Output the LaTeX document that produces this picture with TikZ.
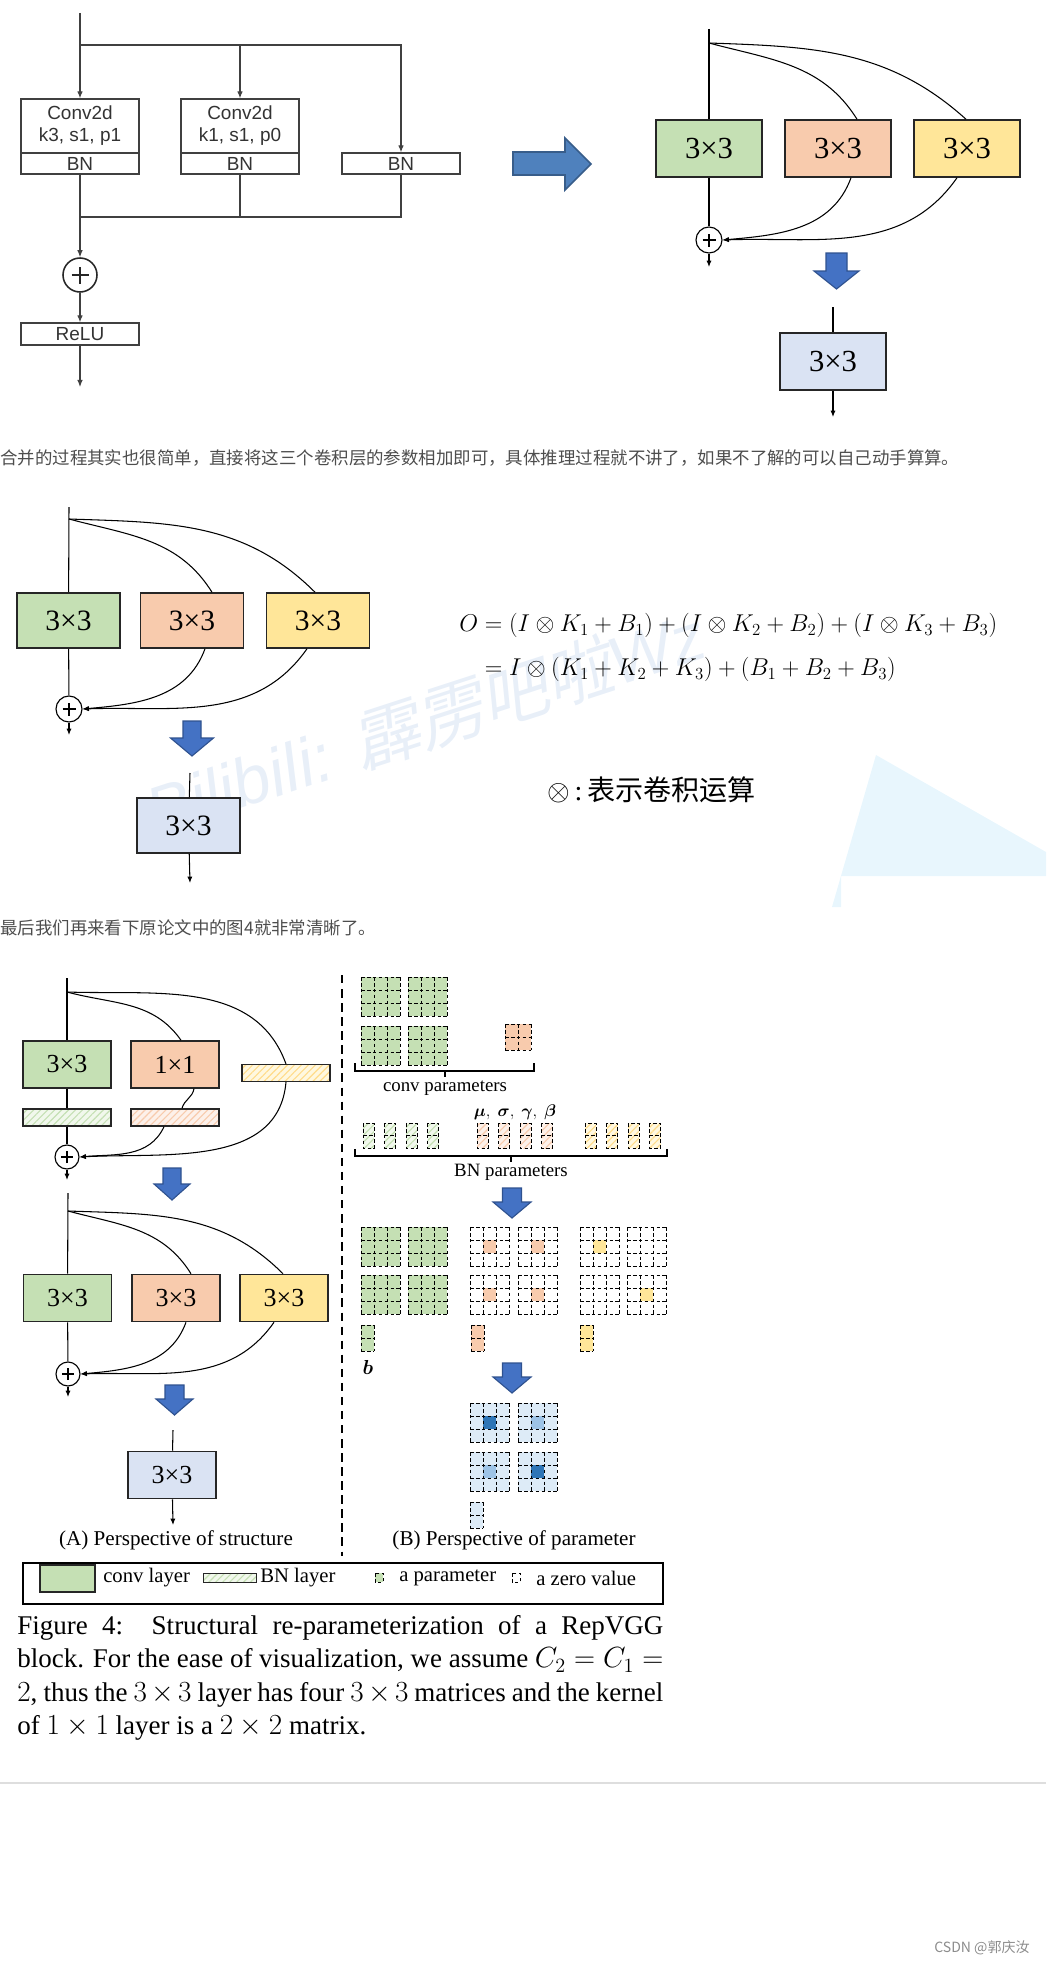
\documentclass[tikz,border=0pt]{standalone}
\usepackage{amsmath, amssymb}
\usepackage{fontspec}
\setmainfont{Liberation Serif}
\setsansfont{Liberation Sans}
\newfontfamily\cjk{Noto Sans CJK SC}
\newfontfamily\cjkslant[FakeSlant=0.22]{Noto Sans CJK SC}
\usepackage{tikz}
\usetikzlibrary{calc, arrows.meta, patterns.meta}

\newdimen\unitpx
\unitpx=0.025cm

\definecolor{cgreen}{HTML}{C5E0B4}
\definecolor{corange}{HTML}{F8CBAD}
\definecolor{cyellow}{HTML}{FFE699}
\definecolor{cblue}{HTML}{DAE3F3}
\definecolor{hgreenbg}{HTML}{F1F8EC}
\definecolor{horangebg}{HTML}{FDF1EA}
\definecolor{hyellowbg}{HTML}{FFF8E0}
\definecolor{arrowblue}{HTML}{4472C4}
\definecolor{arrowedge}{HTML}{2F528F}
\definecolor{bigarrow}{HTML}{4F81BD}
\definecolor{bigarrowedge}{HTML}{385D8A}
\definecolor{fuselight}{HTML}{DDEBF7}
\definecolor{fusemid}{HTML}{9DC3E6}
\definecolor{fusedark}{HTML}{2E75B6}
\definecolor{linegray}{HTML}{404040}
\definecolor{textgray}{HTML}{4D4D4D}
\definecolor{wmark}{HTML}{E8EFF8}
\definecolor{wtri}{HTML}{E8F6FD}

\tikzset{
	link/.style={line width=0.75pt, black},
	arr/.style={link, -{Latex[length=4.5pt, width=3.6pt]}},
	oldlink/.style={line width=0.8pt, linegray},
	oldarr/.style={oldlink, -{Latex[length=5pt, width=4pt]}},
	oldbox/.style={draw=linegray, line width=0.9pt, inner sep=0pt, minimum width=118\unitpx,
		font=\sffamily\fontsize{13.5}{15.6}\selectfont, text=black!80},
	layer/.style={draw=black!85, line width=1.1pt, inner sep=0pt},
	bigbox/.style={layer, minimum width=106\unitpx, minimum height=57\unitpx, font=\rmfamily\fontsize{21.8}{22}\selectfont},
	midbox/.style={layer, minimum width=103\unitpx, minimum height=55\unitpx, font=\rmfamily\fontsize{21}{22}\selectfont},
	smallbox/.style={layer, minimum width=88\unitpx, minimum height=47\unitpx, font=\rmfamily\fontsize{18.5}{20}\selectfont},
	bnbar/.style={layer, line width=1pt, minimum width=88\unitpx, minimum height=17\unitpx},
	hatchgreen/.style={preaction={fill=hgreenbg}, pattern={Lines[angle=45, distance=3.5pt, line width=0.8pt]}, pattern color=cgreen},
	hatchorange/.style={preaction={fill=horangebg}, pattern={Lines[angle=45, distance=3.5pt, line width=0.8pt]}, pattern color=corange},
	hatchyellow/.style={preaction={fill=hyellowbg}, pattern={Lines[angle=45, distance=3.5pt, line width=0.8pt]}, pattern color=cyellow!90!orange},
	sumnode/.style={circle, draw, inner sep=0pt, minimum size=#1, fill=white,
		path picture={
			\draw ($(path picture bounding box.west)!.25!(path picture bounding box.east)$) -- ($(path picture bounding box.west)!.75!(path picture bounding box.east)$)
				($(path picture bounding box.south)!.25!(path picture bounding box.north)$) -- ($(path picture bounding box.south)!.75!(path picture bounding box.north)$);}},
	sumbig/.style={sumnode=34\unitpx, line width=1.1pt, draw=black!85},
	sumsmall/.style={sumnode=26\unitpx, line width=0.8pt},
	sumtiny/.style={sumnode=24\unitpx, line width=0.8pt},
	blockarrow/.style={fill=arrowblue, draw=arrowedge, line width=0.8pt, line join=miter},
	cell/.style={line width=0.6pt, dash pattern=on 2.6pt off 1.6pt},
	paramtext/.style={font=\fontsize{13.4}{15}\selectfont},
	legendtext/.style={font=\fontsize{14.7}{16}\selectfont, anchor=west, inner sep=0pt},
	cntext/.style={font=\cjk\fontsize{12.4}{14}\selectfont, text=textgray, anchor=west, inner sep=0pt},
}

%blue down arrow: centre x, shaft top, head top, tip, shaft half width, head half width
\newcommand{\bluedown}[6]{%
	\filldraw [blockarrow] (#1-#5,#2) -- (#1+#5,#2) -- (#1+#5,#3) -- (#1+#6,#3) -- (#1,#4) -- (#1-#6,#3) -- (#1-#5,#3) -- cycle;
}

%3x3 kernel: top left x, top left y, fill, centre fill
\newcommand{\kgrid}[4]{%
	\fill [#3] (#1,#2) rectangle ++(39,39);
	\fill [#4] (#1+13,#2+13) rectangle ++(13,13);
	\foreach \c in {0,...,3}{\draw [cell] (#1+\c*13,#2) -- ++(0,39);}
	\foreach \r in {0,...,3}{\draw [cell] (#1,#2+\r*13) -- ++(39,0);}
}

%small grid: top left x, top left y, rows, columns, fill
\newcommand{\sgrid}[5]{%
	\fill [#5] (#1,#2) rectangle ++(#4*13,#3*13);
	\foreach \c in {0,...,#4}{\draw [cell] (#1+\c*13,#2) -- ++(0,#3*13);}
	\foreach \r in {0,...,#3}{\draw [cell] (#1,#2+\r*13) -- ++(#4*13,0);}
}

%bn vector: top left x, top left y, hatch
\newcommand{\bnvec}[3]{%
	\path [#3] (#1,#2) rectangle ++(11,25);
	\draw [cell] (#1,#2) rectangle ++(11,25) (#1,#2+12.5) -- ++(11,0);
}

\begin{document}
\begin{tikzpicture}[x=0.025cm, y=-0.025cm]
	\useasboundingbox (0,0) rectangle (1046,1965);
	
	%watermark
	\fill [wtri] (876,755) -- (1046,852) -- (1046,876) -- (841,876) -- (841,907) -- (832,907) -- cycle;
	\node [rotate=18, text=wmark, font=\fontsize{48}{50}\selectfont] (wm) at (425,722)
		{{\sffamily\itshape Bilibili: }{\cjkslant 霹雳吧啦}{\sffamily\itshape Wz}};
	
	%original block
	\coordinate (inA) at (80,13);
	\coordinate (splitA) at (80,45);
	\node [oldbox, minimum height=54\unitpx, align=center] (convA) at (80,126) {Conv2d\\k3, s1, p1};
	\node [oldbox, minimum height=21\unitpx] (bnA) at (80,163.5) {BN};
	\node [oldbox, minimum height=54\unitpx, align=center] (convB) at (240,126) {Conv2d\\k1, s1, p0};
	\node [oldbox, minimum height=21\unitpx] (bnB) at (240,163.5) {BN};
	\node [oldbox, minimum height=21\unitpx] (bnC) at (401,163.5) {BN};
	\coordinate (mergeA) at (80,217);
	\node [sumbig] (sumA) at (80,275) {};
	\node [oldbox, minimum height=22\unitpx] (relu) at (80,334) {ReLU};
	\coordinate (outA) at (80,387);
	
	\draw [oldarr] (inA) -- (convA);
	\draw [oldarr] (splitA -| convB) -- (convB);
	\draw [oldarr] (splitA) -| (bnC);
	\draw [oldlink] (bnB) -- (bnB |- mergeA);
	\draw [oldlink] (bnC) |- (mergeA);
	\draw [oldarr] (bnA) -- (sumA);
	\draw [oldarr] (sumA) -- (relu);
	\draw [oldarr] (relu) -- (outA);
	
	%big arrow
	\filldraw [fill=bigarrow, draw=bigarrowedge, line width=1.2pt] (513,152) -- (565,152) -- (565,138) -- (591,164) -- (565,190) -- (565,175) -- (513,175) -- cycle;
	
	%three branches, top right
	\coordinate (inB) at (709,29);
	\coordinate (forkB) at (709,43);
	\node [bigbox, fill=cgreen] (gB) at (709,148.5) {3×3};
	\node [bigbox, fill=corange] (oB) at (838,148.5) {3×3};
	\node [bigbox, fill=cyellow] (yB) at (967,148.5) {3×3};
	\node [sumsmall] (sumB) at (709,240) {};
	\coordinate (outB) at (709,267);
	
	\draw [link] (inB) -- (gB);
	\draw [link] (forkB) to [out=-15, in=122] ([xshift=19\unitpx]oB.north);
	\draw [link] (forkB) to [out=-2, in=138] ([xshift=-1\unitpx]yB.north);
	\draw [link] (gB) -- (sumB);
	\draw [arr] ([xshift=13\unitpx]oB.south) to [out=-110, in=5] (sumB.east);
	\draw [arr] ([xshift=-10\unitpx]yB.south) to [out=-125, in=2] (sumB.east);
	\draw [arr] (sumB) -- (outB);
	
	\bluedown{836.5}{253}{271}{289}{10.5}{22.5}
	
	\coordinate (inF) at (833,307);
	\node [bigbox, fill=cblue] (fB) at (833,361.5) {3×3};
	\coordinate (outF) at (833,417);
	\draw [link] (inF) -- (fB);
	\draw [arr] (fB) -- (outF);
	
	%first remark
	\node [cntext] (remarkA) at (0,458) {合并的过程其实也很简单，直接将这三个卷积层的参数相加即可，具体推理过程就不讲了，如果不了解的可以自己动手算算。};
	
	%three branches, middle
	\coordinate (inC) at (69,507);
	\coordinate (forkC) at (69,519);
	\node [midbox, fill=cgreen] (gC) at (68.5,620.5) {3×3};
	\node [midbox, fill=corange] (oC) at (192,620.5) {3×3};
	\node [midbox, fill=cyellow] (yC) at (318,620.5) {3×3};
	\node [sumsmall] (sumC) at (69,709) {};
	\coordinate (outC) at (69,735);
	
	\draw [link] (inC) -- (gC);
	\draw [link] (forkC) to [out=-15, in=122] ([xshift=20\unitpx]oC.north);
	\draw [link] (forkC) to [out=-2, in=135] ([xshift=-3\unitpx]yC.north);
	\draw [link] (gC) -- (sumC);
	\draw [arr] ([xshift=13\unitpx]oC.south) to [out=-110, in=5] (sumC.east);
	\draw [arr] ([xshift=-11\unitpx]yC.south) to [out=-125, in=2] (sumC.east);
	\draw [arr] (sumC) -- (outC);
	
	\bluedown{192}{721}{738}{756}{9}{21.5}
	
	\coordinate (inG) at (190,773);
	\node [midbox, fill=cblue] (fC) at (188.5,825.5) {3×3};
	\coordinate (outG) at (190,883);
	\draw [link] (inG) -- (fC);
	\draw [arr] (fC) -- (outG);
	
	%equation
	\node [anchor=west, inner sep=0pt, font=\fontsize{17.3}{20}\selectfont] (eqn) at (459,648)
		{$\begin{aligned} O &= (I\otimes K_1+B_1)+(I\otimes K_2+B_2)+(I\otimes K_3+B_3)\\[8pt]
		&= I\otimes(K_1+K_2+K_3)+(B_1+B_2+B_3)\end{aligned}$};
	\node [anchor=west, inner sep=0pt, font=\fontsize{20}{22}\selectfont] (otimesnote) at (547,790)
		{$\otimes$\,:\,{\cjk 表示卷积运算}};
	
	%second remark
	\node [cntext] (remarkB) at (0,928) {最后我们再来看下原论文中的图4就非常清晰了。};
	
	%figure 4 (A), training block
	\coordinate (inD) at (67,978);
	\coordinate (forkD) at (67,992);
	\node [smallbox, fill=cgreen] (gD) at (67,1064.5) {3×3};
	\node [smallbox, fill=corange] (oD) at (175,1064.5) {1×1};
	\node [bnbar, hatchyellow] (ybD) at (286,1073) {};
	\node [bnbar, hatchgreen] (gbD) at (67,1117.5) {};
	\node [bnbar, hatchorange] (obD) at (175,1117.5) {};
	\node [sumtiny] (sumD) at (67,1157) {};
	\coordinate (outD) at (67,1180);
	
	\draw [link] (inD) -- (gD);
	\draw [link] (forkD) to [out=-15, in=125] ([xshift=6\unitpx]oD.north);
	\draw [link] (forkD) to [out=-2, in=110] (ybD.north);
	\draw [link] (gD) -- (gbD);
	\draw [link] ([xshift=19\unitpx]oD.south) to [out=-100, in=75] ([xshift=7\unitpx]obD.north);
	\draw [link] (gbD) -- (sumD);
	\draw [arr] ([xshift=-11\unitpx]obD.south) to [out=-115, in=5] (sumD.east);
	\draw [arr] (ybD.south) to [out=-95, in=3] (sumD.east);
	\draw [arr] (sumD) -- (outD);
	
	\bluedown{172}{1168}{1184}{1200}{9}{18}
	
	%figure 4 (A), three 3x3 branches
	\coordinate (inE) at (68,1193);
	\coordinate (forkE) at (68,1211);
	\node [smallbox, fill=cgreen] (gE) at (67.5,1298) {3×3};
	\node [smallbox, fill=corange] (oE) at (176,1298) {3×3};
	\node [smallbox, fill=cyellow] (yE) at (284,1298) {3×3};
	\node [sumtiny] (sumE) at (68,1374) {};
	\coordinate (outE) at (68,1397);
	
	\draw [link] (inE) -- (gE);
	\draw [link] (forkE) to [out=-15, in=122] ([xshift=15\unitpx]oE.north);
	\draw [link] (forkE) to [out=-2, in=135] ([xshift=-1\unitpx]yE.north);
	\draw [link] (gE) -- (sumE);
	\draw [arr] ([xshift=10\unitpx]oE.south) to [out=-110, in=5] (sumE.east);
	\draw [arr] ([xshift=-10\unitpx]yE.south) to [out=-125, in=2] (sumE.east);
	\draw [arr] (sumE) -- (outE);
	
	\bluedown{174.5}{1385}{1399}{1415}{9.5}{18.5}
	
	\coordinate (inH) at (173,1430);
	\node [smallbox, fill=cblue] (fE) at (172,1475) {3×3};
	\coordinate (outH) at (173,1525);
	\draw [link] (inH) -- (fE);
	\draw [arr] (fE) -- (outH);
	
	%divider
	\draw [line width=1.6pt, dash pattern=on 6pt off 4pt] (342,975) -- (342,1556);
	
	%figure 4 (B), conv parameters
	\kgrid{361}{977}{cgreen}{cgreen}
	\kgrid{408}{977}{cgreen}{cgreen}
	\kgrid{361}{1026}{cgreen}{cgreen}
	\kgrid{408}{1026}{cgreen}{cgreen}
	\sgrid{505}{1024}{2}{2}{corange}
	\draw [link] (355,1063) -- (355,1071) -- (534,1071) -- (534,1063) (445,1071) -- (445,1077);
	\node [paramtext] (convpar) at (445,1088) {conv parameters};
	
	%bn parameters
	\node [font=\fontsize{12.5}{14}\selectfont] (bnsym) at (515,1112)
		{$\boldsymbol{\mu},\ \boldsymbol{\sigma},\ \boldsymbol{\gamma},\ \boldsymbol{\beta}$};
	\foreach \i in {0,...,3}{
		\bnvec{363+\i*21.5}{1123}{hatchgreen}
		\bnvec{477+\i*21.5}{1123}{hatchorange}
		\bnvec{585+\i*21.5}{1123}{hatchyellow}
	}
	\draw [link] (355,1149) -- (355,1156) -- (667,1156) -- (667,1149) (511,1156) -- (511,1162);
	\node [paramtext] (bnpar) at (511,1172) {BN parameters};
	
	\bluedown{512}{1188}{1202}{1218}{9.5}{19}
	
	%equivalent 3x3 kernels and biases
	\kgrid{361}{1227}{cgreen}{cgreen}
	\kgrid{408}{1227}{cgreen}{cgreen}
	\kgrid{361}{1275}{cgreen}{cgreen}
	\kgrid{408}{1275}{cgreen}{cgreen}
	\kgrid{470}{1227}{white}{corange}
	\kgrid{518}{1227}{white}{corange}
	\kgrid{470}{1275}{white}{corange}
	\kgrid{518}{1275}{white}{corange}
	\kgrid{580}{1227}{white}{cyellow}
	\kgrid{627}{1227}{white}{white}
	\kgrid{580}{1275}{white}{white}
	\kgrid{627}{1275}{white}{cyellow}
	\sgrid{361}{1325}{2}{1}{cgreen}
	\sgrid{471}{1325}{2}{1}{corange}
	\sgrid{580}{1325}{2}{1}{cyellow}
	\node [font=\fontsize{14}{15}\selectfont] (bias) at (368,1367) {$\boldsymbol{b}$};
	
	\bluedown{512}{1363}{1377}{1393}{9.5}{19}
	
	%fused kernel
	\kgrid{470}{1403}{fuselight}{fusedark}
	\kgrid{518}{1403}{fuselight}{fusemid}
	\kgrid{470}{1452}{fuselight}{fusemid}
	\kgrid{518}{1452}{fuselight}{fusedark}
	\sgrid{470}{1502}{2}{1}{fuselight}
	
	%sub captions
	\node [font=\fontsize{15}{16}\selectfont] (capA) at (176,1540) {(A) Perspective of structure};
	\node [font=\fontsize{15}{16}\selectfont] (capB) at (514,1540) {(B) Perspective of parameter};
	
	%legend
	\draw [line width=2pt] (23,1563) rectangle (663,1604);
	\node [layer, line width=0.9pt, fill=cgreen, minimum width=55\unitpx, minimum height=27\unitpx] (lgconv) at (67.5,1578.5) {};
	\node [legendtext] (lgconvt) at (103,1578) {conv layer};
	\node [draw=black!85, line width=0.7pt, hatchgreen, inner sep=0pt, minimum width=53\unitpx, minimum height=9\unitpx] (lgbn) at (229.5,1577.5) {};
	\node [legendtext] (lgbnt) at (260,1578) {BN layer};
	\filldraw [cell, fill=cgreen] (375,1573) rectangle ++(8,9);
	\node [legendtext] (lgpart) at (399,1578) {a parameter};
	\draw [cell] (512,1573) rectangle ++(8,9);
	\node [legendtext] (lgzerot) at (536,1578) {a zero value};
	
	%caption
	\node [anchor=north west, inner sep=0pt, text width=646\unitpx, align=justify, font=\fontsize{19.2}{23.8}\selectfont] (caption) at (17,1615)
		{\hyphenpenalty=10000 Figure 4:\ \ Structural re-parameterization of a RepVGG\linebreak block. For the ease of visualization, we assume $C_2=C_1=$\linebreak $2$, thus the $3\times3$ layer has four $3\times3$ matrices and the kernel\linebreak of $1\times1$ layer is a $2\times2$ matrix.};
	
	%page foot
	\draw [line width=1.1pt, black!13] (0,1783) -- (1046,1783);
	\node [anchor=east, inner sep=0pt, text=black!45, font=\cjk\fontsize{10}{12}\selectfont] (csdn) at (1030,1948) {CSDN @郭庆汝};
\end{tikzpicture}
\end{document}
